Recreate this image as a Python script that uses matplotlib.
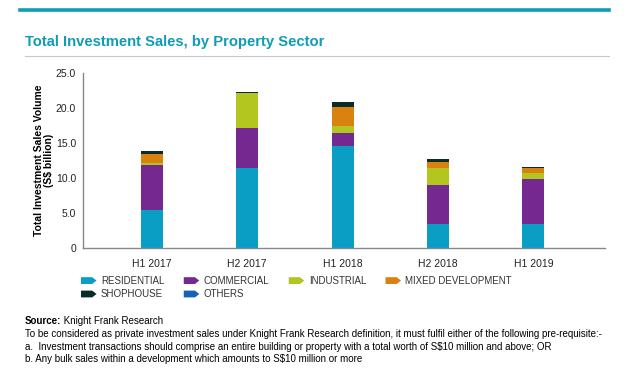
import matplotlib
matplotlib.use("Agg")
import matplotlib.pyplot as plt
from matplotlib.patches import Polygon, Patch
from matplotlib.legend_handler import HandlerBase
from matplotlib.lines import Line2D
import numpy as np

periods = ["H1 2017", "H2 2017", "H1 2018", "H2 2018", "H1 2019"]
sectors = ["RESIDENTIAL", "COMMERCIAL", "INDUSTRIAL", "MIXED DEVELOPMENT", "SHOPHOUSE", "OTHERS"]
residential = [5.5, 11.4, 14.6, 3.4, 3.5]
commercial = [6.3, 5.8, 1.8, 5.6, 6.3]
industrial = [0.4, 4.9, 1.1, 2.4, 0.9]
mixed_dev = [1.3, 0.0, 2.6, 0.9, 0.7]
shophouse = [0.3, 0.2, 0.7, 0.4, 0.2]
others = [0.0, 0.0, 0.0, 0.0, 0.0]
colors = ["#0a9ec5", "#75288f", "#b3c61f", "#d9820f", "#0b2b27", "#1462b5"]

TEAL = "#0f9cb6"
plt.rcParams["font.family"] = ["Liberation Sans", "DejaVu Sans"]


class TagHandler(HandlerBase):
    """Arrow-tag legend key like the Knight Frank style."""
    def create_artists(self, legend, orig, xd, yd, w, h, fontsize, trans):
        x0, y0 = -xd, -yd
        pts = [(x0, y0), (x0 + 0.72 * w, y0), (x0 + w, y0 + h / 2),
               (x0 + 0.72 * w, y0 + h), (x0, y0 + h)]
        return [Polygon(pts, closed=True, facecolor=orig.get_facecolor(),
                        edgecolor="none", transform=trans)]


W, H = 640, 379
fig = plt.figure(figsize=(6.4, 3.79), dpi=100)

# header rules and title
fig.add_artist(Line2D([20 / W, 609 / W], [1 - 10 / H] * 2, color=TEAL, lw=2.6))
fig.add_artist(Line2D([25 / W, 609 / W], [1 - 56 / H] * 2, color="#c8c8c8", lw=0.8))
fig.text(25 / W, 1 - 42 / H, "Total Investment Sales, by Property Sector",
         color=TEAL, fontsize=10.6, fontweight="bold", va="center")

ax = fig.add_axes([83 / W, 1 - 248 / H, (605 - 83) / W, (248 - 73) / H])
series = [residential, commercial, industrial, mixed_dev, shophouse, others]
x = np.arange(len(periods))
bottom = np.zeros(len(periods))
handles = []
for name, vals, c in zip(sectors, series, colors):
    ax.bar(x, vals, 0.23, bottom=bottom, color=c, label=name)
    bottom += np.array(vals)
    handles.append(Patch(facecolor=c, label=name))

ax.set_xlim(-0.72, 4.75)
ax.set_ylim(0, 25)
ax.set_yticks(np.arange(0, 26, 5))
ax.set_yticklabels(["0"] + [f"{v:.1f}" for v in np.arange(5, 26, 5)])
ax.set_xticks(x)
ax.set_xticklabels(periods)
ax.tick_params(length=0, labelsize=7.5, colors="#222222")
ax.tick_params(axis="y", pad=5)
ax.tick_params(axis="x", pad=8)
for s in ["top", "right"]:
    ax.spines[s].set_visible(False)
for s in ["left", "bottom"]:
    ax.spines[s].set_color("#888888")
    ax.spines[s].set_linewidth(1.0)
ax.set_ylabel("Total Investment Sales Volume\n(S$ billion)", fontsize=7.5,
              fontweight="bold", linespacing=1.1, labelpad=1)

# legend, filled column-wise so rows read left to right
order = [0, 4, 1, 5, 2, 3]
fig.legend([handles[i] for i in order], [sectors[i] for i in order],
           handler_map={Patch: TagHandler()}, ncol=4, frameon=False,
           loc="upper left", bbox_to_anchor=(81 / W, 1 - 276 / H),
           fontsize=7, handlelength=1.6, handleheight=0.7, handletextpad=0.45,
           columnspacing=2.0, labelspacing=0.35, borderpad=0, borderaxespad=0,
           labelcolor="#333333")

# footnotes
src = fig.text(25 / W, 1 - 321 / H, "Source:", fontsize=7, fontweight="bold",
               va="center")
ax.annotate(" Knight Frank Research", xy=(1, 0.5), xycoords=src,
            fontsize=7, va="center", ha="left", annotation_clip=False)
notes = [
    "To be considered as private investment sales under Knight Frank Research definition, it must fulfil either of the following pre-requisite:-",
    "a.  Investment transactions should comprise an entire building or property with a total worth of S$10 million and above; OR",
    "b. Any bulk sales within a development which amounts to S$10 million or more",
]
for i, line in enumerate(notes):
    fig.text(25 / W, 1 - (334 + 12.7 * i) / H, line, fontsize=7, va="center")

fig.savefig("out.png", dpi=100)
